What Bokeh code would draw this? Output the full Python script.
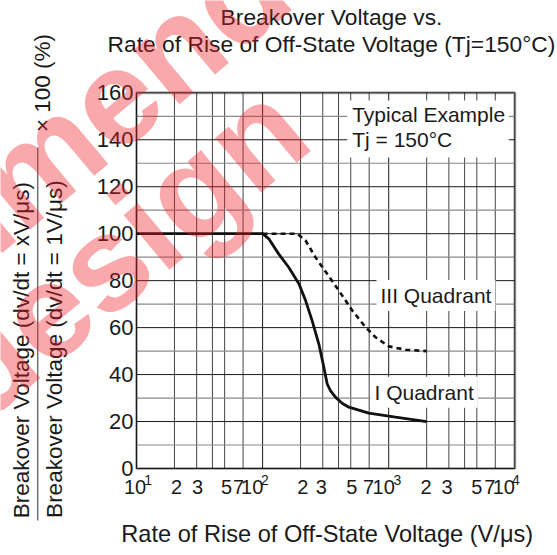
import math
from bokeh.plotting import figure
from bokeh.models import Label, BoxAnnotation, Arrow
from bokeh.embed import file_html
from bokeh.resources import INLINE

# ---------------- data ----------------
title_lines = ["Breakover Voltage vs.", "Rate of Rise of Off-State Voltage (Tj=150°C)"]
x_label = "Rate of Rise of Off-State Voltage  (V/μs)"
y_label_num = "Breakover Voltage  (dv/dt = xV/μs)"
y_label_den = "Breakover Voltage  (dv/dt = 1V/μs)"
y_label_factor = "× 100 (%)"
box_lines = ["Typical Example", "Tj = 150°C"]
q1_name = "I Quadrant"
q3_name = "III Quadrant"
watermark_lines = ["Not recommended", "for new design"]

# I Quadrant (solid)
q1_x = [10, 100, 112, 134, 161, 194, 219, 247, 279, 306, 325, 345, 378, 427, 483, 695, 1132, 2000]
q1_y = [100, 100, 97.8, 91.4, 85.7, 78.7, 71.6, 63.0, 53.1, 43.1, 36.1, 33.2, 30.4, 27.8, 26.1, 23.6, 21.9, 20.0]
# III Quadrant (dashed)
q3_x = [100, 188, 219, 262, 325, 402, 514, 655, 786, 1002, 1359, 2000]
q3_y = [100, 100, 97.1, 90.0, 82.9, 75.8, 67.3, 60.2, 55.9, 52.0, 50.6, 50.0]

x_min, x_max = 10, 10000
y_min, y_max = 0, 160
y_ticks = [0, 20, 40, 60, 80, 100, 120, 140, 160]
y_tick_text = ["0", "20", "40", "60", "80", "100", "120", "140", "160"]
y_minor = [10, 30, 50, 70, 90, 110, 130, 150]
x_decades = [10, 100, 1000, 10000]
x_minor = [20, 30, 40, 50, 70, 200, 300, 400, 500, 700, 2000, 3000, 4000, 5000, 7000]

x_tick_vals = [10, 20, 30, 50, 70, 100, 200, 300, 500, 700, 1000, 2000, 3000, 5000, 7000, 10000]
x_tick_text = ["10", "2", "3", "5", "7", "10", "2", "3", "5", "7", "10", "2", "3", "5", "7", "10"]
x_sup_vals = [10, 100, 1000, 10000]
x_sup_text = ["1", "2", "3", "4"]

# ---------------- style / layout ----------------
W, H = 557, 555
FL, FR, FT, FB = 136.0, 514.3, 92.3, 468.0      # plot box in page pixels
x_tick_dx = [-1.5, 2, 0.8, 2, -4.6, -10.4, 2.2, -1.5, 1, -0.5, -5, -0.7, -1.7, 0, -5.5, -11]
x_sup_dx = [11.7, 2.4, 8.8, 1.0]
FONT = "Liberation Sans"
INK = "#1a1a1a"

dec_px = (FR - FL) / math.log10(x_max / x_min)
x_lo = x_min * 10 ** (-FL / dec_px)
x_hi = x_min * 10 ** ((W - FL) / dec_px)
ypx = (FB - FT) / (y_max - y_min)
y_lo = y_min - (H - FB) / ypx
y_hi = y_min + FB / ypx


def sy(py):
    return H - py


def text(x, y, t, size, align="left", angle=0.0, font=FONT, **kw):
    return Label(x=x, y=sy(y), x_units="screen", y_units="screen", text=t, angle=angle,
                 text_font=font, text_font_size=size, text_color=kw.pop("color", INK),
                 text_align=align, text_baseline="middle", **kw)


p = figure(width=W, height=H, x_axis_type="log",
           x_range=(x_lo, x_hi), y_range=(y_lo, y_hi),
           output_backend="svg", toolbar_location=None,
           x_axis_location=None, y_axis_location=None,
           min_border=0)
p.background_fill_color = "white"
p.border_fill_color = "white"
p.outline_line_color = None
p.grid.visible = False

# grid lines (limited to the plot box)
p.segment(x0=x_minor, y0=y_min, x1=x_minor, y1=y_max, line_color="#444444", line_width=1)
p.segment(x0=x_decades, y0=y_min, x1=x_decades, y1=y_max, line_color="#1a1a1a", line_width=1)
p.segment(x0=x_min, y0=y_minor, x1=x_max, y1=y_minor, line_color="#8a8a8a", line_width=1.2)
p.segment(x0=x_min, y0=y_ticks, x1=x_max, y1=y_ticks, line_color="#1a1a1a", line_width=1)

# curves
p.line(q3_x, q3_y, line_color="#111111", line_width=2.6, line_dash="5 4")
p.line(q1_x, q1_y, line_color="#111111", line_width=2.8)

# plot box border
p.add_layout(BoxAnnotation(left=x_min, right=x_max, bottom=y_min, top=y_max,
                           fill_alpha=0, line_color="#111111", line_width=3))

# y tick labels
for v, t in zip(y_ticks, y_tick_text):
    p.add_layout(Label(x=x_min, y=v, x_offset=-3, text=t, text_font=FONT,
                       text_font_size="22px", text_color=INK,
                       text_align="right", text_baseline="middle"))

# x tick labels
for v, t, dx in zip(x_tick_vals, x_tick_text, x_tick_dx):
    p.add_layout(Label(x=v, y=sy(486.7), y_units="screen", x_offset=dx,
                       text=t, text_font=FONT, text_font_size="20px", text_color=INK,
                       text_align="center", text_baseline="middle"))
for v, t, dx in zip(x_sup_vals, x_sup_text, x_sup_dx):
    p.add_layout(Label(x=v, y=sy(479), y_units="screen", x_offset=dx,
                       text=t, text_font=FONT, text_font_size="14px", text_color=INK,
                       text_align="center", text_baseline="middle"))

# in-plot text boxes
p.add_layout(BoxAnnotation(left=346.7, right=508.3, top=sy(100), bottom=sy(157),
                           left_units="screen", right_units="screen",
                           top_units="screen", bottom_units="screen",
                           fill_color="white", fill_alpha=1, line_color=None))
p.add_layout(text(351.7, 114.1, box_lines[0], "21px"))
p.add_layout(text(351.7, 139.1, box_lines[1], "21px"))
p.add_layout(text(376, 295.1, q3_name, "21px", background_fill_color="white", padding=4))
p.add_layout(text(370, 391.7, q1_name, "21px", background_fill_color="white", padding=4))

# titles
p.add_layout(text(331, 16.9, title_lines[0], "22.8px", align="center"))
p.add_layout(text(331, 43.6, title_lines[1], "22.8px", align="center"))
# x label
p.add_layout(text(330, 533.3, x_label, "23.6px", align="center"))
# y label (fraction)
p.add_layout(text(20.8, 346.5, y_label_num, "22.5px", align="center", angle=math.pi / 2))
p.add_layout(text(53.5, 345.5, y_label_den, "22.5px", align="center", angle=math.pi / 2))
p.add_layout(Arrow(end=None, start=None, x_start=37.3, y_start=sy(147), x_end=37.3, y_end=sy(520),
                   start_units="screen", end_units="screen",
                   line_color="#333333", line_width=1))
p.add_layout(text(41.7, 82.5, y_label_factor, "22.5px", align="center", angle=math.pi / 2))

# watermark
wm_angle = math.radians(40)
p.add_layout(text(-519.0, 628.8, watermark_lines[0], "135px", angle=wm_angle,
                  color="#ee1c25", text_alpha=0.38, text_font_style="bold"))
p.add_layout(text(-442.9, 721.8, watermark_lines[1], "135px", angle=wm_angle,
                  color="#ee1c25", text_alpha=0.38, text_font_style="bold"))

open("out.html", "w").write(file_html(p, INLINE))
